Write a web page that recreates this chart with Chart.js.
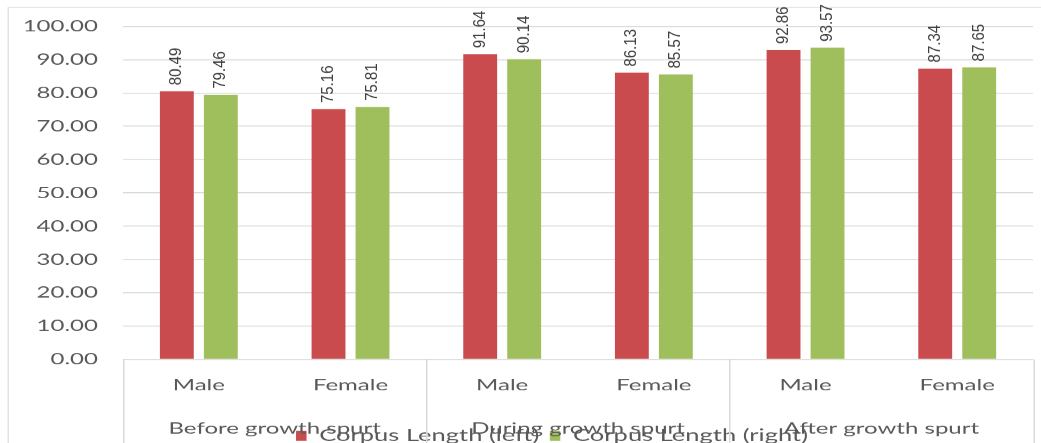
<!DOCTYPE html>
<html>
<head>
<meta charset="utf-8">
<script src="https://cdn.jsdelivr.net/npm/chart.js@4.4.1/dist/chart.umd.min.js"></script>
<style>
  html, body { margin: 0; padding: 0; background: #ffffff; overflow: hidden; }
  #wrap { width: 694px; height: 443px; transform: scaleX(1.5); transform-origin: 0 0; }
</style>
</head>
<body>
<div id="wrap"><canvas id="c"></canvas></div>
<script>
const categories = ['Male', 'Female', 'Male', 'Female', 'Male', 'Female'];
const groups = ['Before growth spurt', 'During growth spurt', 'After growth spurt'];
const seriesNames = ['Corpus Length (left)', 'Corpus Length (right)'];
const leftValues = [80.49, 75.16, 91.64, 86.13, 92.86, 87.34];
const rightValues = [79.46, 75.81, 90.14, 85.57, 93.57, 87.65];
const yMin = 0;
const yMax = 100;
const yStep = 10;

const AXIS_FONT = 'Lato, "Open Sans", sans-serif';
const TEXT_GREY = '#595959';
const GRID_GREY = '#d9d9d9';
const STRETCH = 1.5;

const outerFrame = {
  id: 'outerFrame',
  beforeDraw(chart) {
    const ctx = chart.ctx;
    ctx.save();
    ctx.strokeStyle = '#e3e3e3';
    ctx.lineWidth = 1;
    ctx.beginPath();
    ctx.moveTo(5.5, chart.height);
    ctx.lineTo(5.5, 7.5);
    ctx.lineTo(chart.width, 7.5);
    ctx.stroke();
    ctx.restore();
  }
};

const groupBox = {
  id: 'groupBox',
  afterDraw(chart) {
    const x2 = chart.scales.x2;
    const area = chart.chartArea;
    const xs = [x2.left];
    for (let i = 0; i < groups.length - 1; i++) {
      xs.push((x2.getPixelForValue(i) + x2.getPixelForValue(i + 1)) / 2);
    }
    xs.push(x2.right);
    const ctx = chart.ctx;
    ctx.save();
    ctx.strokeStyle = GRID_GREY;
    ctx.lineWidth = 1;
    ctx.beginPath();
    xs.forEach(x => {
      const px = Math.round(x) + 0.5;
      ctx.moveTo(px, area.bottom);
      ctx.lineTo(px, chart.height);
    });
    ctx.stroke();
    ctx.restore();
  }
};

const valueLabels = {
  id: 'valueLabels',
  afterDatasetsDraw(chart) {
    const ctx = chart.ctx;
    ctx.save();
    ctx.font = '15px "Liberation Sans", Arial, sans-serif';
    ctx.fillStyle = '#404040';
    ctx.textAlign = 'left';
    ctx.textBaseline = 'middle';
    chart.data.datasets.forEach((ds, di) => {
      chart.getDatasetMeta(di).data.forEach((bar, i) => {
        ctx.save();
        ctx.translate(bar.x, bar.y - 6);
        ctx.scale(1.1 / STRETCH, 1);
        ctx.rotate(-Math.PI / 2);
        ctx.fillText(ds.data[i].toFixed(2), 0, 0);
        ctx.restore();
      });
    });
    ctx.restore();
  }
};

new Chart(document.getElementById('c'), {
  type: 'bar',
  data: {
    labels: categories,
    datasets: [
      { label: seriesNames[0], data: leftValues, backgroundColor: '#c94b4d', borderWidth: 0 },
      { label: seriesNames[1], data: rightValues, backgroundColor: '#9ebf5b', borderWidth: 0 }
    ]
  },
  options: {
    responsive: true,
    maintainAspectRatio: false,
    devicePixelRatio: STRETCH,
    animation: false,
    datasets: { bar: { categoryPercentage: 0.58, barPercentage: 0.77 } },
    layout: { padding: { top: 26, right: -42, left: 0, bottom: -11 } },
    scales: {
      y: {
        min: yMin,
        max: yMax,
        ticks: {
          stepSize: yStep,
          padding: 16.7,
          color: TEXT_GREY,
          font: { family: AXIS_FONT, size: 16 },
          callback: v => Number(v).toFixed(2)
        },
        grid: { color: GRID_GREY, drawTicks: false },
        border: { display: false },
        afterFit(scale) { scale.width = 82; }
      },
      y2: {
        type: 'linear',
        position: 'right',
        ticks: { display: false },
        grid: { display: false, drawTicks: false },
        border: { display: false },
        afterFit(scale) { scale.width = 47.3; }
      },
      x: {
        position: 'bottom',
        ticks: {
          mirror: true,
          padding: -35.6,
          color: TEXT_GREY,
          font: { family: AXIS_FONT, size: 16 },
          maxRotation: 0,
          autoSkip: false
        },
        grid: { display: false, drawTicks: false },
        border: { display: false },
        afterFit(scale) { scale.height = 36; }
      },
      x2: {
        type: 'category',
        position: 'bottom',
        labels: groups,
        offset: true,
        ticks: {
          mirror: true,
          padding: -42.6,
          color: TEXT_GREY,
          font: { family: AXIS_FONT, size: 16 },
          maxRotation: 0,
          autoSkip: false
        },
        grid: { display: false, drawTicks: false },
        border: { display: false },
        afterFit(scale) { scale.height = 25; }
      }
    },
    plugins: {
      legend: {
        position: 'bottom',
        labels: {
          boxWidth: 7,
          boxHeight: 10,
          padding: 7,
          color: TEXT_GREY,
          font: { family: AXIS_FONT, size: 17 }
        }
      },
      tooltip: { enabled: false }
    }
  },
  plugins: [outerFrame, groupBox, valueLabels]
});
</script>
</body>
</html>
